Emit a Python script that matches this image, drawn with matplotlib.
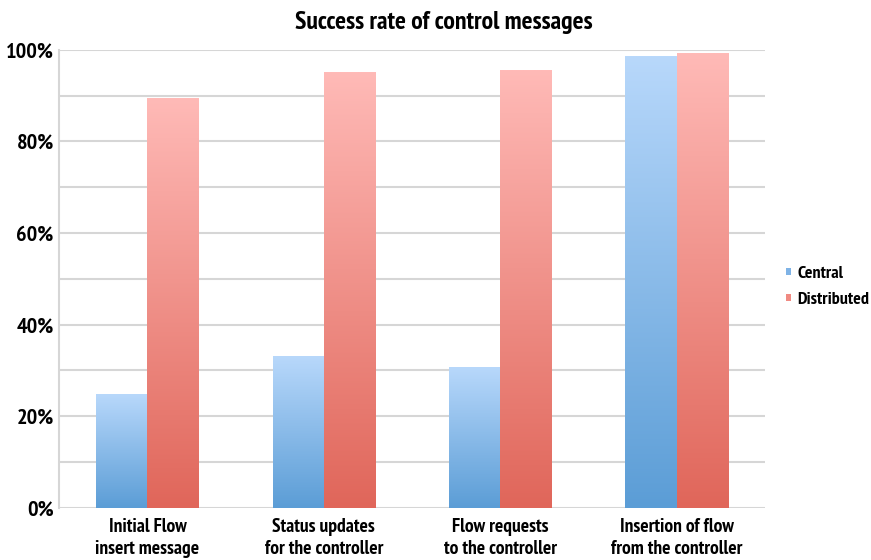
import numpy as np
import matplotlib
matplotlib.use("Agg")
import matplotlib.pyplot as plt
from matplotlib.colors import LinearSegmentedColormap
from matplotlib.patches import Patch

plt.rcParams["font.family"] = ["PT Sans Narrow", "DejaVu Sans"]
plt.rcParams["font.weight"] = "bold"

categories = ["Initial Flow\ninsert message", "Status updates\nfor the controller",
              "Flow requests\nto the controller", "Insertion of flow\nfrom the controller"]
central = [24.8, 33.0, 30.6, 98.5]
distributed = [89.5, 95.1, 95.4, 99.3]
series_names = ["Central", "Distributed"]
yticks = [0, 20, 40, 60, 80, 100]
ytick_labels = ["0%", "20%", "40%", "60%", "80%", "100%"]

blue_cmap = LinearSegmentedColormap.from_list("blue", ["#5b9dd6", "#b8d8fb"])
red_cmap = LinearSegmentedColormap.from_list("red", ["#e0665a", "#ffbab7"])

fig = plt.figure(figsize=(8.71, 5.6), dpi=100)
ax = fig.add_axes([0.068, 0.093, 0.81, 0.818])

width = 0.29
x = np.arange(len(categories))
grad = np.linspace(0, 1, 256).reshape(-1, 1)

for vals, offset, cmap in [(central, -width / 2, blue_cmap), (distributed, width / 2, red_cmap)]:
    bars = ax.bar(x + offset, vals, width, color="none", edgecolor="none", zorder=2)
    for b in bars:
        x0, y0 = b.get_x(), b.get_y()
        ax.imshow(grad, cmap=cmap, origin="lower", aspect="auto",
                  extent=[x0, x0 + b.get_width(), y0, y0 + b.get_height()], zorder=2)

ax.set_xlim(-0.5, len(categories) - 0.5)
ax.set_ylim(0, 100)
ax.set_yticks(yticks)
ax.set_yticklabels(ytick_labels, fontsize=16, fontweight="bold")
ax.set_yticks(np.arange(0, 101, 10), minor=True)
ax.tick_params(axis="y", which="both", length=0, pad=4)
ax.grid(axis="y", which="both", color="#d6d6d6", linewidth=1.5, zorder=0)
ax.set_axisbelow(True)
ax.set_xticks(x)
ax.set_xticklabels(categories, fontsize=14, fontweight="bold", linespacing=1.3)
ax.tick_params(axis="x", length=0, pad=7)
for s in ["top", "right", "bottom"]:
    ax.spines[s].set_visible(False)
ax.spines["left"].set_color("#d6d6d6")
ax.spines["left"].set_linewidth(1.5)

fig.text(444 / 871, 1 - 22 / 560, "Success rate of control messages",
         ha="center", va="center", fontsize=18.5, fontweight="bold")

handles = [Patch(facecolor="#7fb3e6", edgecolor="none"),
           Patch(facecolor="#f08a82", edgecolor="none")]
fig.legend(handles, series_names, loc="center left", bbox_to_anchor=(779 / 871, 1 - 287 / 560),
           frameon=False, fontsize=13, handlelength=0.25, handleheight=0.25,
           handletextpad=0.35, labelspacing=0.55, borderaxespad=0)

fig.savefig("out.png", dpi=100)
